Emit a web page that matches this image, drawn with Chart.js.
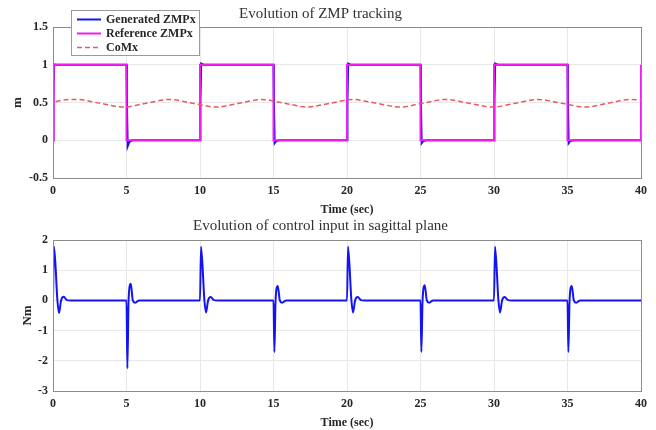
<!DOCTYPE html>
<html>
<head>
<meta charset="utf-8">
<script src="https://cdn.jsdelivr.net/npm/chart.js@4.4.0/dist/chart.umd.min.js"></script>
<style>
    html, body { margin: 0; padding: 0; background: #fff; }
    canvas { display: block; }
</style>
</head>
<body>
<canvas id="zmpChart" width="656" height="217"></canvas>
<canvas id="inputChart" width="656" height="213"></canvas>
<script>
'use strict';

/* top panel: ZMP along x (reference, generated) and CoM */
const refT   = [0, 0.05, 5, 5, 10, 10, 15, 15, 20, 20, 25, 25, 30, 30, 35, 35, 40, 40];
const refZmp = [0, 1,    1, 0, 0,  1,  1,  0,  0,  1,  1,  0,  0,  1,  1,  0,  0,  1];

const genT   = [0, 0.03, 0.08, 0.2,
                5, 5.03, 5.08, 5.2, 5.4,
                10, 10.03, 10.08, 10.25,
                15, 15.03, 15.08, 15.2, 15.4,
                20, 20.03, 20.08, 20.25,
                25, 25.03, 25.08, 25.2, 25.4,
                30, 30.03, 30.08, 30.25,
                35, 35.03, 35.08, 35.2, 35.4,
                40];
const genZmp = [0, 0.6, 1.005, 1,
                1, 0.5, -0.08, -0.02, 0,
                0, 0.5, 1.015, 1,
                1, 0.5, -0.04, -0.01, 0,
                0, 0.5, 1.015, 1,
                1, 0.5, -0.04, -0.01, 0,
                0, 0.5, 1.015, 1,
                1, 0.5, -0.04, -0.01, 0,
                0];

const comT = [0, 0.04, 1.6, 3.2, 4.8, 6.35, 7.9, 9.5, 11.1, 12.65, 14.2, 15.75, 17.3, 18.85,
              20.4, 22.0, 23.6, 25.15, 26.7, 28.3, 29.9, 31.45, 33.0, 34.6, 36.2, 37.75, 39.3, 40];
const comX = [0, 0.5, 0.54, 0.49, 0.44, 0.49, 0.54, 0.49, 0.44, 0.49, 0.54, 0.49, 0.44, 0.49,
              0.54, 0.49, 0.44, 0.49, 0.54, 0.49, 0.44, 0.49, 0.54, 0.49, 0.44, 0.49, 0.54, 0.535];

/* bottom panel: control input */
const uT  = [0, 0.07, 0.3, 0.41, 0.55, 0.73, 0.95, 1.2,
             5, 5.06, 5.14, 5.29, 5.43, 5.59, 5.86,
             10, 10.07, 10.3, 10.41, 10.55, 10.73, 10.95, 11.2,
             15, 15.06, 15.14, 15.29, 15.43, 15.59, 15.86,
             20, 20.07, 20.3, 20.41, 20.55, 20.73, 20.95, 21.2,
             25, 25.06, 25.14, 25.29, 25.43, 25.59, 25.86,
             30, 30.07, 30.3, 30.41, 30.55, 30.73, 30.95, 31.2,
             35, 35.06, 35.14, 35.29, 35.43, 35.59, 35.86,
             40];
const uNm = [0, 1.78, 0, -0.42, 0, 0.12, 0.01, 0,
             0, -2.25, 0, 0.55, 0, -0.08, 0,
             0, 1.78, 0, -0.4, 0, 0.11, 0.01, 0,
             0, -1.71, 0, 0.48, 0, -0.08, 0,
             0, 1.78, 0, -0.4, 0, 0.11, 0.01, 0,
             0, -1.71, 0, 0.5, 0, -0.08, 0,
             0, 1.78, 0, -0.4, 0, 0.11, 0.01, 0,
             0, -1.71, 0, 0.48, 0, -0.08, 0,
             0];

const SERIF = '"Liberation Serif", "Times New Roman", serif';
const tickFont = { family: SERIF, size: 12, weight: 'bold' };
const labelFont = { family: SERIF, size: 12, weight: 'bold' };
const titleFont = { family: SERIF, size: 15, weight: 'normal', lineHeight: 1.2 };
const INK = '#262626';

function pts(xs, ys) {
    return xs.map((t, i) => ({ x: t, y: ys[i] }));
}

// matlab-style labels: 1 not 1.0
function plainTick(v) {
    return String(Math.round(v * 100) / 100);
}

// full box round the plot, like the matlab axes
const frameBox = {
    id: 'frameBox',
    afterDatasetsDraw(chart) {
        const { ctx, chartArea: a } = chart;
        ctx.save();
        ctx.strokeStyle = '#8c8c8c';
        ctx.lineWidth = 1;
        ctx.strokeRect(Math.round(a.left) + 0.5, Math.round(a.top) + 0.5, Math.round(a.width), Math.round(a.height));
        ctx.restore();
    }
};

// legend drawn as a box over the top-left of the plot
const boxLegend = {
    id: 'boxLegend',
    afterDraw(chart, args, opts) {
        if (!opts.show) return;
        const { ctx } = chart;
        const x = Math.round(chart.chartArea.left) + 18, y = 10, w = 128, h = 45;
        ctx.save();
        ctx.fillStyle = '#fff';
        ctx.fillRect(x, y, w, h);
        ctx.strokeStyle = '#9a9a9a';
        ctx.lineWidth = 1;
        ctx.strokeRect(x + 0.5, y + 0.5, w, h);
        ctx.font = 'bold 12px ' + SERIF;
        ctx.textBaseline = 'middle';
        chart.data.datasets.forEach((ds, i) => {
            const ry = y + 9.5 + i * 14;
            ctx.strokeStyle = ds.borderColor;
            ctx.lineWidth = ds.borderWidth;
            ctx.setLineDash(ds.borderDash || []);
            ctx.beginPath();
            ctx.moveTo(x + 6, ry);
            ctx.lineTo(x + 30, ry);
            ctx.stroke();
            ctx.setLineDash([]);
            ctx.fillStyle = INK;
            ctx.fillText(ds.label, x + 35, ry);
        });
        ctx.restore();
    }
};

function makeChart(id, cfg) {
    return new Chart(document.getElementById(id), {
        type: 'line',
        data: { datasets: cfg.datasets },
        options: {
            responsive: false,
            animation: false,
            events: [],
            layout: { padding: { left: 0, right: 15, top: 0, bottom: 0 } },
            elements: { point: { radius: 0 } },
            plugins: {
                legend: { display: false },
                tooltip: { enabled: false },
                title: {
                    display: true,
                    text: cfg.title,
                    color: '#333',
                    font: titleFont,
                    padding: cfg.titlePad,
                },
                boxLegend: { show: !!cfg.legend },
            },
            scales: {
                x: {
                    type: 'linear', min: 0, max: 40,
                    ticks: { stepSize: 5, padding: 6, color: INK, font: tickFont, maxRotation: 0 },
                    grid: { color: '#e8e8e8', drawTicks: false },
                    border: { color: '#8c8c8c' },
                    title: { display: true, text: 'Time (sec)', color: INK, font: labelFont, padding: { top: 0, bottom: 0 } },
                    afterFit(scale) { scale.height = 39; },
                },
                y: {
                    min: cfg.yMin, max: cfg.yMax,
                    ticks: { stepSize: cfg.yStep, padding: 5, color: INK, font: tickFont, callback: plainTick },
                    grid: { color: '#e8e8e8', drawTicks: false },
                    border: { color: '#8c8c8c' },
                    title: { display: true, text: cfg.yTitle, color: INK, font: { family: SERIF, size: 13, weight: 'bold' }, padding: { top: cfg.yTitleGap, bottom: 0 } },
                    afterFit(scale) { scale.width = 53; },
                },
            },
        },
        plugins: [frameBox, boxLegend],
    });
}

makeChart('zmpChart', {
    title: 'Evolution of ZMP tracking',
    titlePad: { top: 5, bottom: 4 },
    yTitle: 'm', yTitleGap: 10,
    yMin: -0.5, yMax: 1.5, yStep: 0.5,
    legend: true,
    datasets: [
        { label: 'Generated ZMPx', data: pts(genT, genZmp), borderColor: '#1414f0', borderWidth: 2, tension: 0, order: 2 },
        { label: 'Reference ZMPx', data: pts(refT, refZmp), borderColor: '#f21cf2', borderWidth: 2, tension: 0, order: 1 },
        { label: 'CoMx', data: pts(comT, comX), borderColor: '#ec5a60', borderWidth: 1.5, borderDash: [5, 3], cubicInterpolationMode: 'monotone', order: 0 },
    ],
});

makeChart('inputChart', {
    title: 'Evolution of control input in sagittal plane',
    titlePad: { top: 0, bottom: 5 },
    yTitle: 'Nm', yTitleGap: 20,
    yMin: -3, yMax: 2, yStep: 1,
    legend: false,
    datasets: [
        { label: 'u', data: pts(uT, uNm), borderColor: '#1414f0', borderWidth: 2, cubicInterpolationMode: 'monotone' },
    ],
});
</script>
</body>
</html>
